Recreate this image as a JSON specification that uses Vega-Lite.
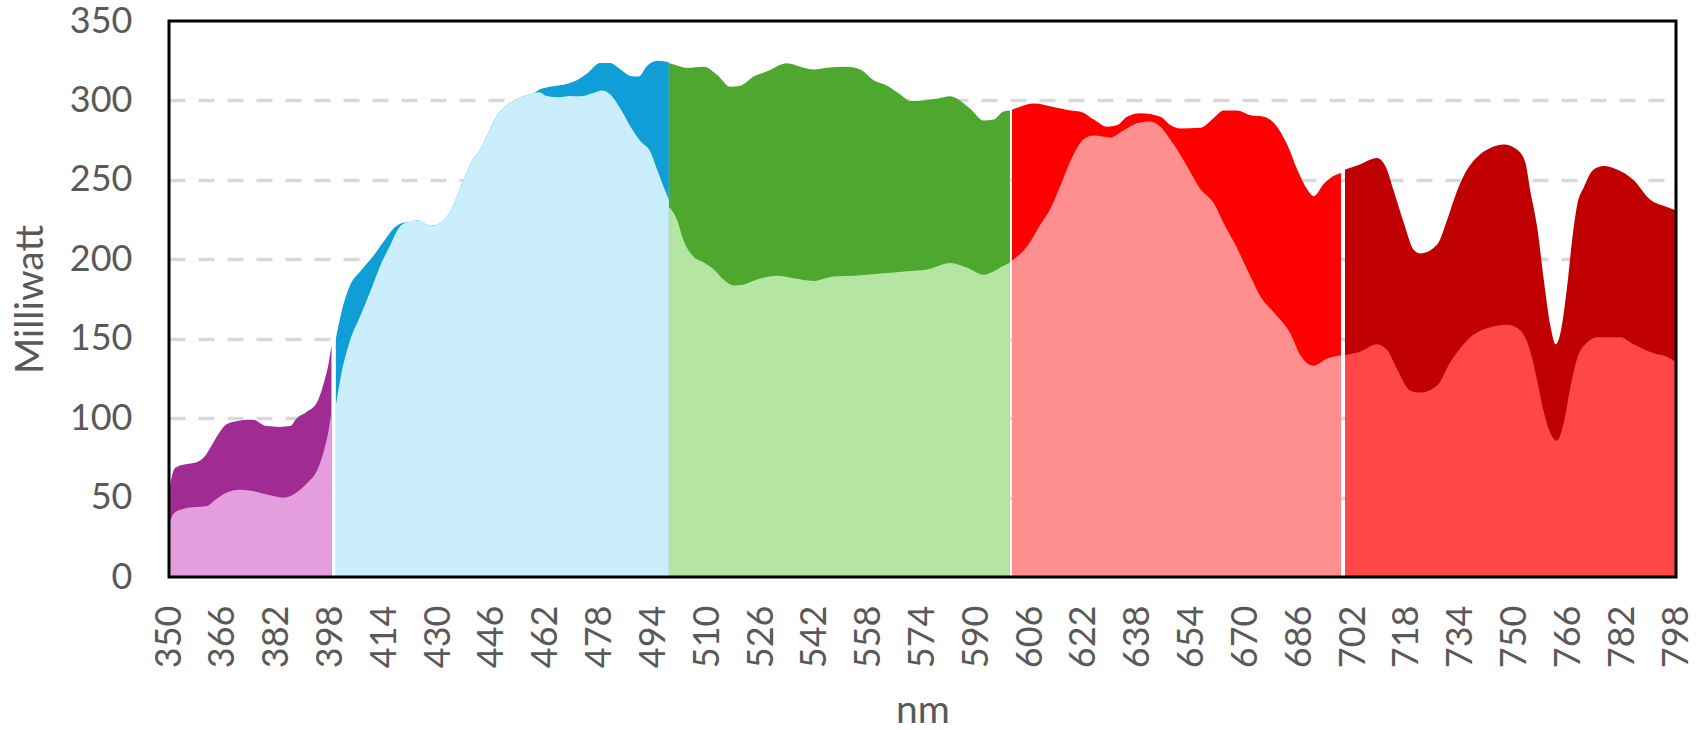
{
"$schema": "https://vega.github.io/schema/vega-lite/v6.json",
"width": 1507, "height": 556,
"autosize": {"type": "none"},
"padding": {"left": 169, "top": 21, "right": 30, "bottom": 153},
"background": "#ffffff",
"config": {
  "view": {"stroke": "#000000", "strokeWidth": 3},
  "style": {"cell": {"strokeForeground": true}},
  "axis": {"labelFont": "Lato", "labelFontSize": 36, "labelColor": "#595959", "titleFont": "Lato", "titleFontSize": 39, "titleColor": "#595959", "titleFontWeight": "normal", "ticks": false, "domain": false}
},
"datasets": {
"spd": [
{"band":"p","series":"hi","nm":350,"mw":52},{"band":"p","series":"hi","nm":350.8,"mw":63},{"band":"p","series":"hi","nm":352,"mw":69},{"band":"p","series":"hi","nm":355,"mw":71},{"band":"p","series":"hi","nm":358,"mw":72},{"band":"p","series":"hi","nm":361,"mw":77},{"band":"p","series":"hi","nm":363,"mw":84},{"band":"p","series":"hi","nm":365,"mw":91},{"band":"p","series":"hi","nm":367,"mw":96},{"band":"p","series":"hi","nm":370,"mw":98},{"band":"p","series":"hi","nm":373,"mw":99},{"band":"p","series":"hi","nm":375,"mw":99},{"band":"p","series":"hi","nm":377,"mw":97},{"band":"p","series":"hi","nm":379,"mw":95},{"band":"p","series":"hi","nm":383,"mw":94.5},{"band":"p","series":"hi","nm":386,"mw":95},{"band":"p","series":"hi","nm":388,"mw":100},{"band":"p","series":"hi","nm":391,"mw":104},{"band":"p","series":"hi","nm":394,"mw":110},{"band":"p","series":"hi","nm":396,"mw":122},{"band":"p","series":"hi","nm":397.5,"mw":135},{"band":"p","series":"hi","nm":398.3,"mw":146},
{"band":"p","series":"lo","nm":350,"mw":33},{"band":"p","series":"lo","nm":351.4,"mw":40},{"band":"p","series":"lo","nm":354.4,"mw":43},{"band":"p","series":"lo","nm":358,"mw":44},{"band":"p","series":"lo","nm":361,"mw":44.5},{"band":"p","series":"lo","nm":364,"mw":49},{"band":"p","series":"lo","nm":367,"mw":53},{"band":"p","series":"lo","nm":371,"mw":55},{"band":"p","series":"lo","nm":374,"mw":54.5},{"band":"p","series":"lo","nm":377,"mw":53},{"band":"p","series":"lo","nm":381,"mw":51},{"band":"p","series":"lo","nm":384,"mw":50},{"band":"p","series":"lo","nm":387,"mw":52},{"band":"p","series":"lo","nm":389,"mw":55},{"band":"p","series":"lo","nm":391,"mw":59},{"band":"p","series":"lo","nm":394,"mw":67},{"band":"p","series":"lo","nm":396,"mw":79},{"band":"p","series":"lo","nm":397.5,"mw":93},{"band":"p","series":"lo","nm":398.3,"mw":104},
{"band":"b","series":"hi","nm":399.6,"mw":150},{"band":"b","series":"hi","nm":401.3,"mw":167},{"band":"b","series":"hi","nm":403.8,"mw":183.5},{"band":"b","series":"hi","nm":406.9,"mw":192.5},{"band":"b","series":"hi","nm":410.9,"mw":202.6},{"band":"b","series":"hi","nm":414.8,"mw":214},{"band":"b","series":"hi","nm":416.8,"mw":219.5},{"band":"b","series":"hi","nm":418.8,"mw":222.4},{"band":"b","series":"hi","nm":420.8,"mw":223.3},{"band":"b","series":"hi","nm":423.8,"mw":224.6},{"band":"b","series":"hi","nm":426.8,"mw":221.7},{"band":"b","series":"hi","nm":428.8,"mw":221.2},{"band":"b","series":"hi","nm":431.8,"mw":225},{"band":"b","series":"hi","nm":433.8,"mw":230.7},{"band":"b","series":"hi","nm":435.8,"mw":240.8},{"band":"b","series":"hi","nm":437.8,"mw":251},{"band":"b","series":"hi","nm":439.8,"mw":261},{"band":"b","series":"hi","nm":442.8,"mw":270},{"band":"b","series":"hi","nm":444.8,"mw":279},{"band":"b","series":"hi","nm":446.8,"mw":288},{"band":"b","series":"hi","nm":449.8,"mw":296},{"band":"b","series":"hi","nm":452.8,"mw":300.3},{"band":"b","series":"hi","nm":455.8,"mw":303},{"band":"b","series":"hi","nm":458.8,"mw":305},{"band":"b","series":"hi","nm":460.2,"mw":307},{"band":"b","series":"hi","nm":464.2,"mw":309},{"band":"b","series":"hi","nm":468.2,"mw":310.4},{"band":"b","series":"hi","nm":471.2,"mw":312.7},{"band":"b","series":"hi","nm":474.3,"mw":317},{"band":"b","series":"hi","nm":478.2,"mw":323.5},{"band":"b","series":"hi","nm":481.2,"mw":323.5},{"band":"b","series":"hi","nm":484.2,"mw":319.4},{"band":"b","series":"hi","nm":487.2,"mw":315.4},{"band":"b","series":"hi","nm":489.6,"mw":315},{"band":"b","series":"hi","nm":492.1,"mw":321.7},{"band":"b","series":"hi","nm":495.1,"mw":325},{"band":"b","series":"hi","nm":498.6,"mw":324},
{"band":"b","series":"lo","nm":399.6,"mw":108},{"band":"b","series":"lo","nm":401.3,"mw":128.5},{"band":"b","series":"lo","nm":403.8,"mw":148.7},{"band":"b","series":"lo","nm":406.9,"mw":164.4},{"band":"b","series":"lo","nm":409.9,"mw":180},{"band":"b","series":"lo","nm":412.8,"mw":196},{"band":"b","series":"lo","nm":415.8,"mw":209},{"band":"b","series":"lo","nm":417.8,"mw":218},{"band":"b","series":"lo","nm":418.8,"mw":221},{"band":"b","series":"lo","nm":420.8,"mw":223.3},{"band":"b","series":"lo","nm":423.8,"mw":224.6},{"band":"b","series":"lo","nm":426.8,"mw":221.7},{"band":"b","series":"lo","nm":428.8,"mw":221.2},{"band":"b","series":"lo","nm":431.8,"mw":225},{"band":"b","series":"lo","nm":433.8,"mw":230.7},{"band":"b","series":"lo","nm":435.8,"mw":240.8},{"band":"b","series":"lo","nm":437.8,"mw":251},{"band":"b","series":"lo","nm":439.8,"mw":261},{"band":"b","series":"lo","nm":442.8,"mw":270},{"band":"b","series":"lo","nm":444.8,"mw":279},{"band":"b","series":"lo","nm":446.8,"mw":288},{"band":"b","series":"lo","nm":449.8,"mw":296},{"band":"b","series":"lo","nm":452.8,"mw":300.3},{"band":"b","series":"lo","nm":455.8,"mw":303},{"band":"b","series":"lo","nm":458.8,"mw":304.8},{"band":"b","series":"lo","nm":460.2,"mw":305.2},{"band":"b","series":"lo","nm":462,"mw":303},{"band":"b","series":"lo","nm":466,"mw":302},{"band":"b","series":"lo","nm":469,"mw":302.8},{"band":"b","series":"lo","nm":472.3,"mw":302.6},{"band":"b","series":"lo","nm":476.3,"mw":304.8},{"band":"b","series":"lo","nm":478.7,"mw":306.3},{"band":"b","series":"lo","nm":481.2,"mw":303.7},{"band":"b","series":"lo","nm":484.2,"mw":294.7},{"band":"b","series":"lo","nm":487.2,"mw":283.5},{"band":"b","series":"lo","nm":490.1,"mw":274.5},{"band":"b","series":"lo","nm":493.1,"mw":267.7},{"band":"b","series":"lo","nm":495.1,"mw":256.5},{"band":"b","series":"lo","nm":497.1,"mw":245.3},{"band":"b","series":"lo","nm":498.6,"mw":237.4},
{"band":"g","series":"hi","nm":498.6,"mw":323.5},{"band":"g","series":"hi","nm":501,"mw":322},{"band":"g","series":"hi","nm":504,"mw":320.5},{"band":"g","series":"hi","nm":509,"mw":321.2},{"band":"g","series":"hi","nm":513,"mw":316},{"band":"g","series":"hi","nm":516.9,"mw":308.6},{"band":"g","series":"hi","nm":519.9,"mw":309.3},{"band":"g","series":"hi","nm":523.8,"mw":315},{"band":"g","series":"hi","nm":527.8,"mw":318.3},{"band":"g","series":"hi","nm":533.7,"mw":323.4},{"band":"g","series":"hi","nm":537.7,"mw":321.2},{"band":"g","series":"hi","nm":541.7,"mw":319.4},{"band":"g","series":"hi","nm":545.6,"mw":320.5},{"band":"g","series":"hi","nm":551.6,"mw":321.2},{"band":"g","series":"hi","nm":555.5,"mw":319.4},{"band":"g","series":"hi","nm":559.5,"mw":312.7},{"band":"g","series":"hi","nm":563.5,"mw":309.3},{"band":"g","series":"hi","nm":567.4,"mw":303.7},{"band":"g","series":"hi","nm":570.4,"mw":299.6},{"band":"g","series":"hi","nm":575.4,"mw":300.3},{"band":"g","series":"hi","nm":578.3,"mw":301},{"band":"g","series":"hi","nm":582.3,"mw":302.6},{"band":"g","series":"hi","nm":585.3,"mw":299.6},{"band":"g","series":"hi","nm":588.2,"mw":294.7},{"band":"g","series":"hi","nm":592.2,"mw":287.3},{"band":"g","series":"hi","nm":595.2,"mw":288},{"band":"g","series":"hi","nm":598.1,"mw":293},{"band":"g","series":"hi","nm":600,"mw":293.6},
{"band":"g","series":"lo","nm":498.6,"mw":233},{"band":"g","series":"lo","nm":501,"mw":225},{"band":"g","series":"lo","nm":503,"mw":211.6},{"band":"g","series":"lo","nm":506,"mw":201.5},{"band":"g","series":"lo","nm":509,"mw":198},{"band":"g","series":"lo","nm":512,"mw":193.6},{"band":"g","series":"lo","nm":515,"mw":186.9},{"band":"g","series":"lo","nm":517.9,"mw":183.5},{"band":"g","series":"lo","nm":520.9,"mw":184.2},{"band":"g","series":"lo","nm":524.8,"mw":187.3},{"band":"g","series":"lo","nm":530.8,"mw":189.6},{"band":"g","series":"lo","nm":535.7,"mw":188},{"band":"g","series":"lo","nm":541.7,"mw":186.4},{"band":"g","series":"lo","nm":547.6,"mw":189.1},{"band":"g","series":"lo","nm":553.6,"mw":189.6},{"band":"g","series":"lo","nm":561.5,"mw":191},{"band":"g","series":"lo","nm":569.4,"mw":192.5},{"band":"g","series":"lo","nm":575.4,"mw":193.6},{"band":"g","series":"lo","nm":582.3,"mw":197.7},{"band":"g","series":"lo","nm":587.3,"mw":194.7},{"band":"g","series":"lo","nm":592.2,"mw":190.3},{"band":"g","series":"lo","nm":595.2,"mw":192.5},{"band":"g","series":"lo","nm":598.1,"mw":195.9},{"band":"g","series":"lo","nm":600,"mw":198},
{"band":"r","series":"hi","nm":600.6,"mw":294.2},{"band":"r","series":"hi","nm":603,"mw":296},{"band":"r","series":"hi","nm":607.1,"mw":298},{"band":"r","series":"hi","nm":613,"mw":295.8},{"band":"r","series":"hi","nm":618,"mw":293.6},{"band":"r","series":"hi","nm":621,"mw":292.9},{"band":"r","series":"hi","nm":624.9,"mw":288},{"band":"r","series":"hi","nm":628.9,"mw":283.5},{"band":"r","series":"hi","nm":631.8,"mw":284.4},{"band":"r","series":"hi","nm":634.8,"mw":289.8},{"band":"r","series":"hi","nm":638.8,"mw":292},{"band":"r","series":"hi","nm":644.7,"mw":289.8},{"band":"r","series":"hi","nm":647.7,"mw":284.6},{"band":"r","series":"hi","nm":650.7,"mw":282.3},{"band":"r","series":"hi","nm":656.6,"mw":282.8},{"band":"r","series":"hi","nm":660.6,"mw":289},{"band":"r","series":"hi","nm":663.5,"mw":293.6},{"band":"r","series":"hi","nm":667.5,"mw":293.6},{"band":"r","series":"hi","nm":671.5,"mw":290.6},{"band":"r","series":"hi","nm":675.4,"mw":289.8},{"band":"r","series":"hi","nm":679.4,"mw":283.5},{"band":"r","series":"hi","nm":682.4,"mw":272.2},{"band":"r","series":"hi","nm":685.4,"mw":256.5},{"band":"r","series":"hi","nm":688.3,"mw":244.2},{"band":"r","series":"hi","nm":690.3,"mw":239.7},{"band":"r","series":"hi","nm":693.3,"mw":247.5},{"band":"r","series":"hi","nm":695.8,"mw":252},{"band":"r","series":"hi","nm":698.4,"mw":254.3},
{"band":"r","series":"lo","nm":600.6,"mw":199.2},{"band":"r","series":"lo","nm":605.1,"mw":208.2},{"band":"r","series":"lo","nm":609,"mw":221.7},{"band":"r","series":"lo","nm":612,"mw":231.8},{"band":"r","series":"lo","nm":615,"mw":246.4},{"band":"r","series":"lo","nm":618,"mw":262.1},{"band":"r","series":"lo","nm":621.9,"mw":275.6},{"band":"r","series":"lo","nm":624.9,"mw":277.9},{"band":"r","series":"lo","nm":629.9,"mw":276.7},{"band":"r","series":"lo","nm":633.8,"mw":281.2},{"band":"r","series":"lo","nm":637.8,"mw":285.7},{"band":"r","series":"lo","nm":641.7,"mw":286.8},{"band":"r","series":"lo","nm":644.7,"mw":283.5},{"band":"r","series":"lo","nm":648.7,"mw":272.2},{"band":"r","series":"lo","nm":652.6,"mw":258.8},{"band":"r","series":"lo","nm":656.6,"mw":244.2},{"band":"r","series":"lo","nm":660.6,"mw":235.2},{"band":"r","series":"lo","nm":663.5,"mw":222.8},{"band":"r","series":"lo","nm":667.5,"mw":207.1},{"band":"r","series":"lo","nm":671.5,"mw":189.1},{"band":"r","series":"lo","nm":674.4,"mw":176.8},{"band":"r","series":"lo","nm":678.4,"mw":166.7},{"band":"r","series":"lo","nm":683.4,"mw":153.2},{"band":"r","series":"lo","nm":686.3,"mw":139.7},{"band":"r","series":"lo","nm":690.3,"mw":133},{"band":"r","series":"lo","nm":694.3,"mw":137.5},{"band":"r","series":"lo","nm":698.4,"mw":139.7},
{"band":"d","series":"hi","nm":699.6,"mw":256.5},{"band":"d","series":"hi","nm":704.2,"mw":259.9},{"band":"d","series":"hi","nm":709.1,"mw":263.7},{"band":"d","series":"hi","nm":711.6,"mw":258.8},{"band":"d","series":"hi","nm":714.1,"mw":243},{"band":"d","series":"hi","nm":717.1,"mw":222.8},{"band":"d","series":"hi","nm":720,"mw":206},{"band":"d","series":"hi","nm":722,"mw":203.7},{"band":"d","series":"hi","nm":727,"mw":209.3},{"band":"d","series":"hi","nm":730,"mw":225},{"band":"d","series":"hi","nm":732.9,"mw":243},{"band":"d","series":"hi","nm":735.9,"mw":256.5},{"band":"d","series":"hi","nm":738.9,"mw":264.4},{"band":"d","series":"hi","nm":742.8,"mw":270},{"band":"d","series":"hi","nm":746.8,"mw":272.2},{"band":"d","series":"hi","nm":750.8,"mw":268.9},{"band":"d","series":"hi","nm":753.2,"mw":261},{"band":"d","series":"hi","nm":754.7,"mw":243},{"band":"d","series":"hi","nm":756.7,"mw":220.6},{"band":"d","series":"hi","nm":758.7,"mw":186.9},{"band":"d","series":"hi","nm":760.7,"mw":157.7},{"band":"d","series":"hi","nm":762.2,"mw":146.5},{"band":"d","series":"hi","nm":763.6,"mw":153.2},{"band":"d","series":"hi","nm":765.6,"mw":182.4},{"band":"d","series":"hi","nm":767.1,"mw":211.6},{"band":"d","series":"hi","nm":768.6,"mw":234},{"band":"d","series":"hi","nm":770.6,"mw":245.3},{"band":"d","series":"hi","nm":773.5,"mw":256.5},{"band":"d","series":"hi","nm":776.5,"mw":258.8},{"band":"d","series":"hi","nm":780.5,"mw":256.5},{"band":"d","series":"hi","nm":785.4,"mw":249.8},{"band":"d","series":"hi","nm":790.4,"mw":237.4},{"band":"d","series":"hi","nm":795.3,"mw":232.9},{"band":"d","series":"hi","nm":798,"mw":230.7},
{"band":"d","series":"lo","nm":699.6,"mw":139.7},{"band":"d","series":"lo","nm":704.2,"mw":142},{"band":"d","series":"lo","nm":709.1,"mw":146.5},{"band":"d","series":"lo","nm":712.1,"mw":143},{"band":"d","series":"lo","nm":715.1,"mw":130.7},{"band":"d","series":"lo","nm":719,"mw":117.3},{"band":"d","series":"lo","nm":722,"mw":116.1},{"band":"d","series":"lo","nm":727,"mw":120.6},{"band":"d","series":"lo","nm":730.9,"mw":135.2},{"band":"d","series":"lo","nm":733.9,"mw":144.2},{"band":"d","series":"lo","nm":736.9,"mw":151},{"band":"d","series":"lo","nm":742.8,"mw":157.2},{"band":"d","series":"lo","nm":747.8,"mw":158.8},{"band":"d","series":"lo","nm":751.7,"mw":155.4},{"band":"d","series":"lo","nm":754.7,"mw":142},{"band":"d","series":"lo","nm":756.7,"mw":124},{"band":"d","series":"lo","nm":758.7,"mw":103.8},{"band":"d","series":"lo","nm":760.7,"mw":90.3},{"band":"d","series":"lo","nm":762.6,"mw":85.8},{"band":"d","series":"lo","nm":764.6,"mw":97},{"band":"d","series":"lo","nm":766.6,"mw":119.5},{"band":"d","series":"lo","nm":768.6,"mw":137.5},{"band":"d","series":"lo","nm":771.6,"mw":147.6},{"band":"d","series":"lo","nm":774.5,"mw":151},{"band":"d","series":"lo","nm":781.5,"mw":151},{"band":"d","series":"lo","nm":785.4,"mw":146.5},{"band":"d","series":"lo","nm":791.4,"mw":140.8},{"band":"d","series":"lo","nm":795.3,"mw":138.6},{"band":"d","series":"lo","nm":798,"mw":135.2}
]
},
"data": {"name": "spd"},
"encoding": {
  "x": {"field": "nm", "type": "quantitative", "scale": {"domain": [350, 798], "nice": false, "zero": false},
        "axis": {"values": [350,366,382,398,414,430,446,462,478,494,510,526,542,558,574,590,606,622,638,654,670,686,702,718,734,750,766,782,798], "labelAngle": -90, "labelPadding": 28, "grid": false, "title": "nm", "titleY": 145, "titleBaseline": "alphabetic"}},
  "y": {"field": "mw", "type": "quantitative", "stack": null, "scale": {"domain": [0, 350], "nice": false},
        "axis": {"values": [0,50,100,150,200,250,300,350], "labelPadding": 37, "grid": true, "gridColor": "#D9D9D9", "gridDash": [16, 13], "gridWidth": 3.5,
                 "gridOpacity": {"condition": {"test": "datum.value == 0 || datum.value == 350", "value": 0}, "value": 1},
                 "title": "Milliwatt", "titleX": -139, "titleBaseline": "middle"}}
},
"layer": [
  {"transform": [{"filter": "datum.series == 'hi'"}],
   "mark": {"type": "area", "interpolate": "monotone"},
   "encoding": {"color": {"field": "band", "type": "nominal", "legend": null,
      "scale": {"domain": ["p","b","g","r","d"], "range": ["#A02B93","#0F9ED5","#4EA72E","#FF0000","#C00000"]}}}},
  {"transform": [{"filter": "datum.series == 'lo'"}],
   "mark": {"type": "area", "interpolate": "monotone"},
   "encoding": {"color": {"field": "band", "type": "nominal", "legend": null,
      "scale": {"domain": ["p","b","g","r","d"], "range": ["#E49EDD","#CAEEFB","#B4E5A2","#FF8F8F","#FF4747"]}}}}
],
"resolve": {"scale": {"color": "independent"}}
}
